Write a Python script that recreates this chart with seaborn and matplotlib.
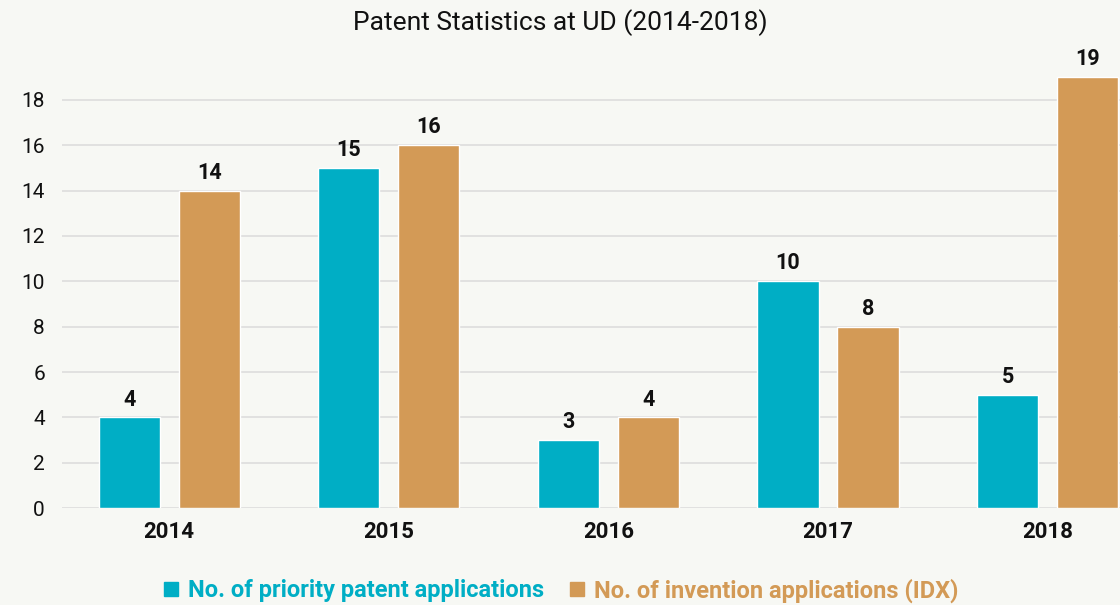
import matplotlib
matplotlib.use("Agg")
import matplotlib.pyplot as plt
import seaborn as sns
import pandas as pd
from matplotlib.lines import Line2D

years = ["2014", "2015", "2016", "2017", "2018"]
priority_apps = [4, 15, 3, 10, 5]
invention_apps = [14, 16, 4, 8, 19]
series_names = ["No. of priority patent applications", "No. of invention applications (IDX)"]
colors = ["#00aec5", "#d39a56"]
yticks = [0, 2, 4, 6, 8, 10, 12, 14, 16, 18]
title = "Patent Statistics at UD (2014-2018)"

df = pd.DataFrame({
    "year": years * 2,
    "value": priority_apps + invention_apps,
    "series": [series_names[0]] * len(years) + [series_names[1]] * len(years),
})

sns.set_theme(style="white")
plt.rcParams["font.family"] = ["Roboto", "DejaVu Sans"]
bg = "#f7f8f4"

fig = plt.figure(figsize=(11.2, 6.05), dpi=100, facecolor=bg)
ax = fig.add_axes([0.055, 0.160, 0.945, 0.750])
ax.set_facecolor(bg)

sns.barplot(data=df, x="year", y="value", hue="series", hue_order=series_names,
            palette=colors, width=0.729, gap=0.236, saturation=1, ax=ax,
            legend=False, errorbar=None)

for c in ax.containers:
    ax.bar_label(c, labels=[f"{int(v)}" for v in c.datavalues], padding=5,
                 fontsize=15.5, fontweight="bold", color="#111111")

ax.set_ylim(0, 20)
ax.set_xlim(-0.49, 4.33)
ax.set_yticks(yticks)
ax.set_yticklabels([str(t) for t in yticks])
ax.yaxis.grid(True, color="#dddddd", linewidth=1.2)
ax.set_axisbelow(True)
for s in ax.spines.values():
    s.set_visible(False)
ax.tick_params(axis="y", length=0, pad=12, labelsize=15, labelcolor="#111111")
ax.tick_params(axis="x", length=0, pad=9, labelsize=16, labelcolor="#111111")
for lbl in ax.get_xticklabels():
    lbl.set_fontweight("bold")
ax.set_xlabel("")
ax.set_ylabel("")

fig.text(0.5, 0.962, title, ha="center", va="center", fontsize=19, color="#111111")

handles = [Line2D([0], [0], marker="s", linestyle="none", markersize=10,
                  markerfacecolor=c, markeredgecolor=c) for c in colors]
leg = fig.legend(handles, series_names, loc="center", bbox_to_anchor=(0.5, 0.024),
                 ncol=2, frameon=False, fontsize=17, handletextpad=0.3,
                 columnspacing=1.0, handlelength=0.8)
for t, c in zip(leg.get_texts(), colors):
    t.set_color(c)
    t.set_fontweight("bold")

fig.savefig("out.png", dpi=100, facecolor=bg)
